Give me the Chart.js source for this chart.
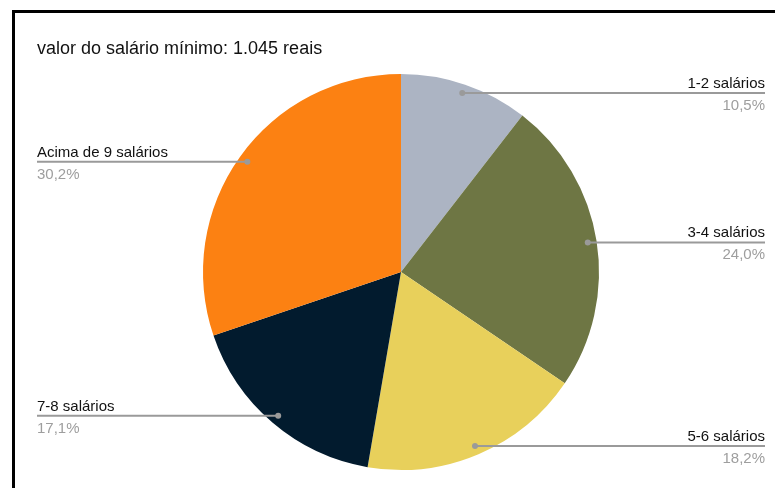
<!DOCTYPE html>
<html>
<head>
<meta charset="utf-8">
<script src="https://cdn.jsdelivr.net/npm/chart.js@4/dist/chart.umd.min.js"></script>
<style>
  html, body { margin: 0; padding: 0; background: #fff; }
  #moldura {
    position: absolute; left: 12px; top: 10px; width: 763px; height: 478px;
    border-left: 3px solid #000; border-top: 3px solid #000; box-sizing: border-box;
  }
  #wrap { position: absolute; left: 0; top: 0; width: 775px; height: 488px; }
</style>
</head>
<body>
<div id="moldura"></div>
<div id="wrap"><canvas id="grafico-salario" width="775" height="488"></canvas></div>
<script>
  var titulo = "valor do salário mínimo: 1.045 reais";
  var faixas = ["1-2 salários", "3-4 salários", "5-6 salários", "7-8 salários", "Acima de 9 salários"];
  var percentuais = [10.5, 24.0, 18.2, 17.1, 30.2];
  var cores = ["#acb4c3", "#6e7644", "#e8d05b", "#021b2e", "#fc8112"];

  // desenha titulo, pontos, linhas e rotulos
  var rotulosPlugin = {
    id: "rotulos",
    afterDraw: function (chart) {
      var ctx = chart.ctx;
      var meta = chart.getDatasetMeta(0);
      ctx.save();
      ctx.fillStyle = "#111";
      ctx.font = "18px 'Liberation Sans', Arial, sans-serif";
      ctx.textAlign = "left";
      ctx.textBaseline = "alphabetic";
      ctx.fillText(titulo, 37, 54);

      for (var i = 0; i < meta.data.length; i++) {
        var arc = meta.data[i];
        var meio = (arc.startAngle + arc.endAngle) / 2;
        var r = arc.outerRadius * 0.955;
        var px = arc.x + Math.cos(meio) * r;
        var py = arc.y + Math.sin(meio) * r;
        var direita = Math.cos(meio) >= 0;
        var xFim = direita ? 765 : 37;

        ctx.strokeStyle = "#9a9a9a";
        ctx.lineWidth = 2;
        ctx.beginPath();
        ctx.moveTo(px, py);
        ctx.lineTo(xFim, py);
        ctx.stroke();

        ctx.fillStyle = "#9a9a9a";
        ctx.beginPath();
        ctx.arc(px, py, 3, 0, Math.PI * 2);
        ctx.fill();

        ctx.textAlign = direita ? "right" : "left";
        ctx.font = "15px 'Liberation Sans', Arial, sans-serif";
        ctx.fillStyle = "#111";
        ctx.fillText(faixas[i], xFim, py - 5);
        ctx.fillStyle = "#9e9e9e";
        ctx.fillText(percentuais[i].toFixed(1).replace(".", ",") + "%", xFim, py + 17);
      }
      ctx.restore();
    }
  };

  var ctx1 = document.getElementById("grafico-salario").getContext("2d");
  var chart1 = new Chart(ctx1, {
    type: "pie",
    data: {
      labels: faixas,
      datasets: [
        {
          data: percentuais,
          backgroundColor: cores,
          borderWidth: 0,
        },
      ],
    },
    options: {
      responsive: false,
      animation: false,
      layout: {
        padding: { top: 74, bottom: 18, left: 40, right: 13 },
      },
      plugins: {
        legend: { display: false },
        title: { display: false },
        tooltip: { enabled: true },
      },
    },
    plugins: [rotulosPlugin],
  });
</script>
</body>
</html>
